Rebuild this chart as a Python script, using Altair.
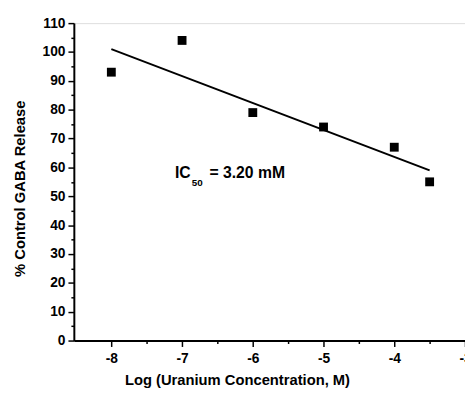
import altair as alt
import pandas as pd

# Data
log_conc = [-8, -7, -6, -5, -4, -3.5]
release = [93, 104, 79, 74, 67, 55]
fit_x = [-8, -3.5]
fit_y = [101, 59]
y_values = [v for v in range(0, 111, 5)]
x_values = [-8, -7.5, -7, -6.5, -6, -5.5, -5, -4.5, -4, -3.5, -3]
ann_x = [-7.1, -7.1, -7.1]
ann_y = [58, 58, 58]
ann_text = ["IC", "50", "= 3.20 mM"]

FONT = "Liberation Sans"

pts = pd.DataFrame({"x": log_conc, "y": release})
fit = pd.DataFrame({"x": fit_x, "y": fit_y})

xscale = alt.Scale(domain=[-8.53, -3.0], nice=False, zero=False)
yscale = alt.Scale(domain=[0, 110], nice=False, zero=False)

xaxis = alt.Axis(
    title="Log (Uranium Concentration, M)",
    values=x_values,
    labelExpr="datum.value % 1 == 0 ? '' + datum.value : ''",
    tickSize={"condition": {"test": "datum.value % 1 == 0", "value": 6}, "value": 3},
    labelOverlap=False, labelBound=False, labelFlush=False,
    grid=False,
    domainColor="black", domainWidth=2,
    tickColor="black", tickWidth=1.5,
    labelFont=FONT, labelFontSize=14, labelFontWeight="bold", labelColor="black",
    labelPadding=5,
    titleFont=FONT, titleFontSize=15, titleFontWeight="bold", titleColor="black",
    titleX=166, titleY=40, titleAlign="center", titleBaseline="middle",
)
yaxis = alt.Axis(
    title="% Control GABA Release",
    values=y_values,
    labelExpr="datum.value % 10 == 0 ? '' + datum.value : ''",
    tickSize={"condition": {"test": "datum.value % 10 == 0", "value": 6}, "value": 3},
    labelOverlap=False, labelBound=False, labelFlush=False,
    grid=False,
    domainColor="black", domainWidth=2,
    tickColor="black", tickWidth=1.5,
    labelFont=FONT, labelFontSize=14, labelFontWeight="bold", labelColor="black",
    labelPadding=3,
    titleFont=FONT, titleFontSize=15, titleFontWeight="bold", titleColor="black",
    titleX=-55, titleY=168, titleAngle=-90, titleAlign="center", titleBaseline="middle",
)

X = alt.X("x:Q", scale=xscale, axis=xaxis)
Y = alt.Y("y:Q", scale=yscale, axis=yaxis)

points = alt.Chart(pts).mark_point(shape="square", filled=True, size=81, color="black", opacity=1).encode(
    x=X, y=Y,
)

line = alt.Chart(fit).mark_line(color="black", strokeWidth=2).encode(
    x=X, y=Y,
)

ann = pd.DataFrame({"x": ann_x, "y": ann_y, "t": ann_text})
base_ann = alt.Chart(ann)
t1 = base_ann.transform_filter(alt.datum.t == "IC").mark_text(
    align="left", baseline="middle", font=FONT, fontSize=16, fontWeight="bold", color="black"
).encode(x=X, y=Y, text="t:N")
t2 = base_ann.transform_filter(alt.datum.t == "50").mark_text(
    align="left", baseline="middle", font=FONT, fontSize=10, fontWeight="bold", color="black", dx=17, dy=10
).encode(x=X, y=Y, text="t:N")
t3 = base_ann.transform_filter(alt.datum.t == "= 3.20 mM").mark_text(
    align="left", baseline="middle", font=FONT, fontSize=16, fontWeight="bold", color="black", dx=35
).encode(x=X, y=Y, text="t:N")

chart = alt.layer(points, line, t1, t2, t3).properties(
    width=398, height=323,
    autosize=alt.AutoSizeParams(type="none"),
    padding={"left": 67, "top": 12, "right": 0, "bottom": 52},
).configure_view(stroke=None).configure(background="white")

chart.save("out.html", embed_options={"renderer": "svg", "actions": False})
